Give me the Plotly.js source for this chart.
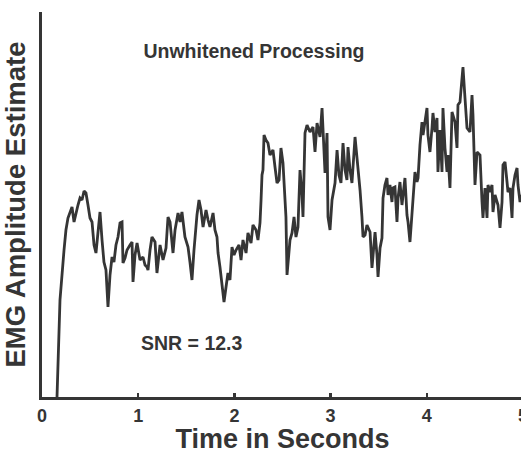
<!DOCTYPE html>
<html>
<head>
<meta charset="utf-8">
<script src="https://cdn.plot.ly/plotly-3.0.1.min.js"></script>
<style>
  html, body { margin: 0; padding: 0; overflow: hidden; background: #fff; width: 521px; height: 454px; }
  #chart { width: 540px; height: 454px; }
</style>
</head>
<body>
<div id="chart"></div>
<script>
// Time (s)
const time = [0.156,0.187,0.229,0.249,0.270,0.291,0.312,0.333,0.353,0.374,0.395,0.416,0.437,0.457,0.478,0.499,0.520,0.541,0.561,0.582,0.603,0.624,0.644,0.665,0.686,0.707,0.728,0.748,0.769,0.790,0.811,0.832,0.842,0.863,0.884,0.915,0.936,0.946,0.967,0.988,1.019,1.050,1.071,1.091,1.102,1.123,1.143,1.175,1.195,1.227,1.258,1.289,1.310,1.331,1.362,1.383,1.414,1.435,1.455,1.486,1.518,1.538,1.559,1.580,1.590,1.611,1.632,1.653,1.674,1.705,1.726,1.746,1.778,1.798,1.819,1.830,1.850,1.871,1.892,1.913,1.933,1.954,1.975,1.996,2.017,2.048,2.069,2.089,2.121,2.141,2.173,2.193,2.225,2.245,2.266,2.277,2.287,2.297,2.308,2.328,2.349,2.370,2.401,2.422,2.443,2.464,2.484,2.505,2.526,2.536,2.547,2.568,2.578,2.599,2.620,2.640,2.661,2.682,2.703,2.713,2.734,2.755,2.786,2.817,2.838,2.859,2.890,2.911,2.921,2.942,2.963,2.973,2.994,3.015,3.046,3.067,3.087,3.108,3.129,3.150,3.170,3.181,3.202,3.222,3.254,3.285,3.306,3.326,3.337,3.358,3.378,3.410,3.430,3.462,3.482,3.493,3.514,3.534,3.545,3.565,3.586,3.597,3.617,3.638,3.649,3.669,3.690,3.701,3.721,3.742,3.773,3.794,3.805,3.825,3.846,3.857,3.877,3.898,3.909,3.929,3.950,3.961,3.981,4.002,4.012,4.033,4.054,4.064,4.085,4.106,4.116,4.137,4.158,4.168,4.189,4.210,4.220,4.241,4.262,4.272,4.293,4.314,4.324,4.345,4.366,4.376,4.397,4.418,4.449,4.470,4.480,4.501,4.522,4.553,4.574,4.584,4.605,4.626,4.636,4.657,4.678,4.688,4.709,4.740,4.761,4.782,4.792,4.813,4.834,4.844,4.865,4.886,4.896,4.917,4.938,4.948,4.969,4.990];
// EMG amplitude estimate (arbitrary units)
const amplitude = [0,97,147,167,179,185,190,175,185,192,199,197,206,204,192,179,175,152,144,167,185,157,135,127,90,122,140,135,152,160,174,175,134,139,147,152,155,115,142,154,137,140,132,130,127,147,160,155,124,152,137,149,180,175,144,167,184,175,185,160,150,135,117,147,162,182,197,187,170,187,177,170,184,167,160,144,130,114,95,110,124,117,150,142,147,152,137,157,144,164,154,172,167,157,174,197,222,227,262,257,254,242,247,230,214,217,249,234,197,180,122,152,157,164,180,160,170,227,202,180,264,272,265,270,245,274,260,289,264,224,264,180,167,197,214,247,222,214,254,227,217,250,227,214,260,230,207,180,160,162,172,165,129,165,142,120,149,159,199,212,219,202,212,195,209,210,175,199,215,192,219,182,175,155,185,199,225,215,219,252,275,262,275,289,262,245,269,284,265,279,225,267,225,289,249,225,242,209,285,282,275,249,292,295,315,330,299,269,265,302,282,212,245,242,195,179,209,179,212,205,212,185,202,192,169,195,232,235,215,205,209,179,209,222,229,212,195,202];

const xTicks = [0, 1, 2, 3, 4, 5];
const xTickText = ['0', '1', '2', '3', '4', '5'];

const titleText = 'Unwhitened Processing';
const snrText = 'SNR = 12.3';
const xTitle = 'Time in Seconds';
const yTitle = 'EMG Amplitude Estimate';

const ink = '#353535';
const fam = '"Liberation Sans", Arial, Helvetica, sans-serif';

const trace = {
  x: time,
  y: amplitude,
  type: 'scatter',
  mode: 'lines',
  line: { color: ink, width: 2.8 },
  hoverinfo: 'skip',
  cliponaxis: true
};

const layout = {
  width: 540,
  height: 454,
  margin: { l: 42, r: 17, t: 12, b: 57, pad: 0 },
  paper_bgcolor: '#ffffff',
  plot_bgcolor: '#ffffff',
  showlegend: false,
  font: { family: fam, color: ink },
  title: {
    text: '<b>' + titleText + '</b>',
    font: { size: 19.5, family: fam, color: ink },
    x: 0.4407, xref: 'paper', xanchor: 'center',
    y: 1 - 51 / 454, yref: 'container', yanchor: 'middle'
  },
  xaxis: {
    range: [0, 5],
    tickvals: xTicks,
    ticktext: xTickText.map(t => '<b>' + t + '</b>'),
    ticks: 'inside',
    ticklen: 4,
    tickwidth: 2.5,
    tickcolor: ink,
    tickfont: { size: 18, family: fam, color: ink },
    showline: true,
    linecolor: ink,
    linewidth: 3,
    showgrid: false,
    zeroline: false,
    fixedrange: true,
    title: { text: '<b>' + xTitle + '</b>', font: { size: 27, family: fam, color: ink }, standoff: 9 }
  },
  yaxis: {
    range: [0, 385],
    showticklabels: false,
    ticks: '',
    showline: true,
    linecolor: ink,
    linewidth: 3,
    showgrid: false,
    zeroline: false,
    fixedrange: true,
    title: { text: '<b>' + yTitle + '</b>', font: { size: 27.5, family: fam, color: ink }, standoff: 6 }
  },
  annotations: [
    {
      x: 1.559, y: 54, xref: 'x', yref: 'y',
      text: '<b>' + snrText + '</b>',
      showarrow: false,
      font: { size: 19.5, family: fam, color: ink },
      xanchor: 'center', yanchor: 'middle'
    }
  ]
};

Plotly.newPlot('chart', [trace], layout, { displayModeBar: false, staticPlot: true });
</script>
</body>
</html>
